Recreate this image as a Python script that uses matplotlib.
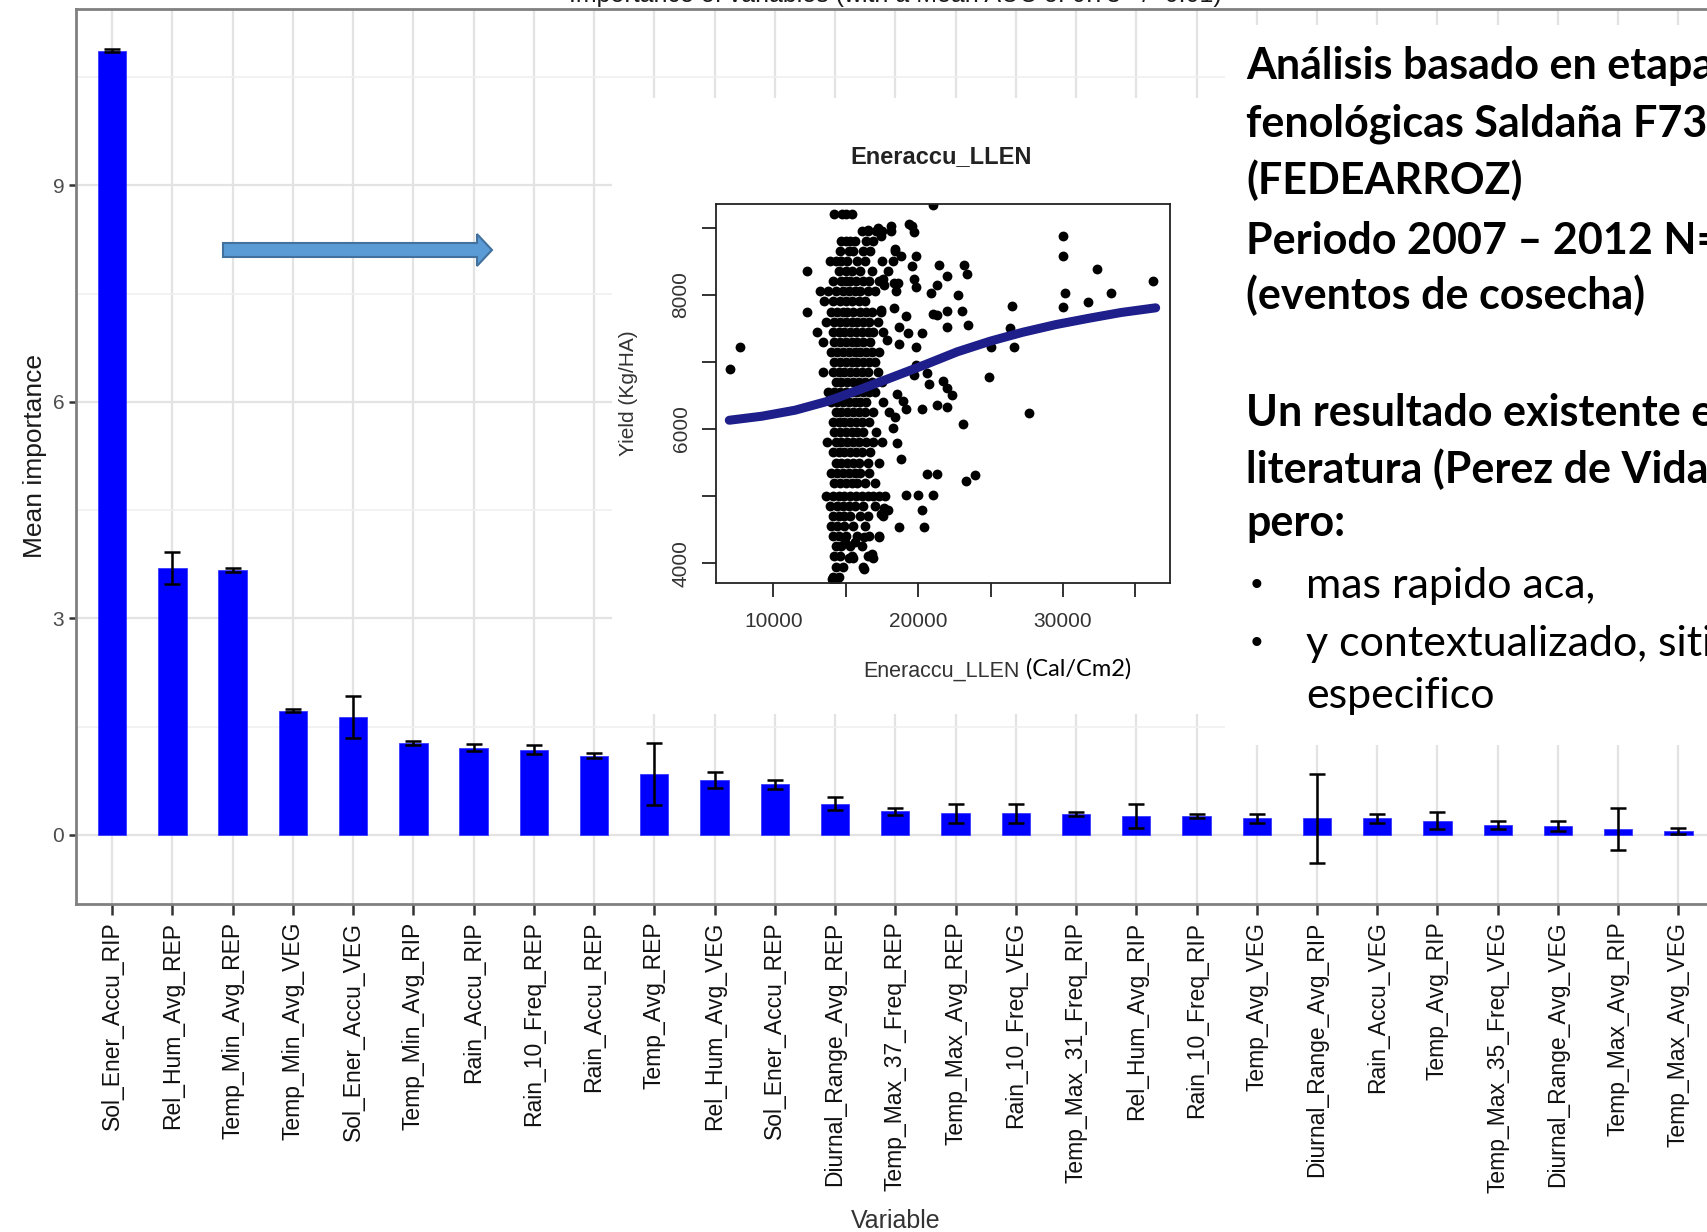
import matplotlib.pyplot as plt
from matplotlib.patches import Rectangle, Polygon
import numpy as np

plt.rcParams['font.family'] = ['Liberation Sans', 'DejaVu Sans']

# --- bar chart data (mean importance +/- sd) ---
variables = ['Sol_Ener_Accu_RIP', 'Rel_Hum_Avg_REP', 'Temp_Min_Avg_REP', 'Temp_Min_Avg_VEG',
             'Sol_Ener_Accu_VEG', 'Temp_Min_Avg_RIP', 'Rain_Accu_RIP', 'Rain_10_Freq_REP',
             'Rain_Accu_REP', 'Temp_Avg_REP', 'Rel_Hum_Avg_VEG', 'Sol_Ener_Accu_REP',
             'Diurnal_Range_Avg_REP', 'Temp_Max_37_Freq_REP', 'Temp_Max_Avg_REP', 'Rain_10_Freq_VEG',
             'Temp_Max_31_Freq_RIP', 'Rel_Hum_Avg_RIP', 'Rain_10_Freq_RIP', 'Temp_Avg_VEG',
             'Diurnal_Range_Avg_RIP', 'Rain_Accu_VEG', 'Temp_Avg_RIP', 'Temp_Max_35_Freq_VEG',
             'Diurnal_Range_Avg_VEG', 'Temp_Max_Avg_RIP', 'Temp_Max_Avg_VEG']
mean_imp = [10.87, 3.70, 3.67, 1.72, 1.63, 1.27, 1.21, 1.18, 1.10, 0.85, 0.76, 0.70, 0.43,
            0.33, 0.30, 0.30, 0.29, 0.26, 0.26, 0.23, 0.23, 0.23, 0.20, 0.14, 0.12, 0.08, 0.05]
sd_imp = [0.02, 0.22, 0.03, 0.02, 0.29, 0.03, 0.05, 0.06, 0.03, 0.43, 0.11, 0.06, 0.09,
          0.05, 0.13, 0.13, 0.03, 0.17, 0.03, 0.06, 0.62, 0.06, 0.12, 0.06, 0.07, 0.29, 0.04]

# --- inset scatter data (Eneraccu_LLEN vs yield) ---
loose_x = [7010, 7670, 30000, 30000, 32360, 33340, 36190, 31750, 30160, 30000, 26460, 26330,
           26590, 25060, 24870, 27650, 23940, 23280, 23070, 23410, 23340, 23150, 22750, 23020,
           21960, 21430, 21300, 20900, 21300, 21960, 21960, 21030, 21030, 20240, 19840, 19840,
           19710, 20640, 20770, 21690, 21960, 22300, 21300, 21960, 20240, 21300, 20640, 21030,
           20000, 19180, 20240, 20370, 18650, 19580, 19710, 19390, 18120, 17200, 16530, 17460,
           18390, 18250, 18780, 19580, 19840, 19710, 19840, 17540, 17670, 18320, 18590, 18450,
           18320, 19180, 19310, 18650, 17460, 17860, 18650, 18520, 18780, 18250, 18390, 18920,
           19180, 18520, 17670, 17940, 17400, 17270, 16800, 16850, 16270, 15480, 15210, 14950,
           15610, 16270, 14020, 14420, 12300, 12300, 13000]
loose_y = [6900, 7220, 8870, 8570, 8380, 8020, 8200, 7890, 8020, 7810, 7830, 7510,
           7220, 7220, 6780, 6240, 5320, 5230, 6070, 7550, 8310, 8450, 7990, 7760,
           8280, 8440, 8140, 8030, 7700, 7760, 7520, 7720, 9335, 7430, 7220, 6950,
           6810, 6840, 6670, 6720, 6610, 6500, 6350, 6330, 6300, 5330, 5330, 5020,
           5020, 5020, 4790, 4540, 4540, 9020, 8940, 9050, 9020, 8990, 8970, 8880,
           8680, 8510, 8570, 8430, 8570, 8230, 8110, 8230, 8140, 8170, 8170, 8060,
           7800, 7690, 7430, 7520, 7770, 7330, 7260, 5790, 5560, 6010, 6180, 6410,
           6300, 6520, 4820, 4790, 4730, 4390, 4140, 4080, 3910, 4080, 4080, 4310,
           4310, 4390, 3770, 3770, 8350, 7750, 7450]
# dense band rows of the main cloud: (yield, [energy values])
band_rows = [
    (9200, [14150, 14750, 15000, 15450]),
    (8950, [16100, 16500, 17100, 17500, 18100]),
    (8800, [14700, 15000, 15300, 15600, 16400, 16900]),
    (8650, [14600, 15200, 15500, 16200, 16700, 18400]),
    (8500, [13900, 14300, 14700, 15100, 15800, 16300, 17500]),
    (8350, [14500, 15000, 15400, 16000, 16800, 17900]),
    (8200, [14100, 14700, 15000, 15300, 15700, 16200, 16600, 17300]),
    (8050, [13200, 13800, 14300, 14800, 15200, 15600, 16000, 16500, 17000]),
    (7900, [13500, 14100, 14600, 15000, 15400, 15900, 16300]),
    (7750, [14000, 14400, 14800, 15100, 15500, 16000, 16400, 16800, 17400]),
    (7600, [13600, 14200, 14600, 15000, 15400, 15800, 16200, 16600, 17200]),
    (7450, [14100, 14500, 14900, 15300, 15700, 16100, 16500, 16900, 17600]),
    (7300, [13400, 14200, 14600, 15000, 15400, 15800, 16200, 16700]),
    (7150, [14000, 14400, 14800, 15200, 15600, 16000, 16400, 16800, 17300]),
    (7000, [14200, 14600, 15000, 15400, 15800, 16200, 16600, 17000]),
    (6850, [13400, 14100, 14500, 14900, 15300, 15700, 16100, 16500, 17200]),
    (6700, [14300, 14700, 15100, 15500, 15900, 16300, 16800, 17500]),
    (6550, [13800, 14200, 14600, 15000, 15400, 15800, 16200, 16600, 17000]),
    (6400, [14000, 14400, 14800, 15200, 15600, 16000, 16400, 17600]),
    (6250, [14300, 14700, 15100, 15500, 15900, 16300, 16900, 18000]),
    (6100, [14100, 14500, 14900, 15300, 15700, 16100, 16600]),
    (5950, [14200, 14600, 15000, 15400, 15800, 16200, 17100]),
    (5800, [13700, 14300, 14700, 15100, 15500, 15900, 16400, 16900, 17500]),
    (5650, [14100, 14500, 14900, 15300, 15700, 16100, 16700]),
    (5500, [14300, 14700, 15100, 15500, 15900, 16500, 17300]),
    (5350, [14000, 14400, 14800, 15200, 15600, 16000, 16600]),
    (5200, [14200, 14600, 15000, 15400, 15800, 16300, 17000]),
    (5000, [13600, 14100, 14500, 14900, 15300, 15700, 16100, 16500, 16900, 17300, 17700]),
    (4850, [13900, 14400, 14800, 15200, 15600, 16200, 17000]),
    (4700, [14100, 14500, 14900, 15300, 16000, 16500, 17600]),
    (4550, [14000, 14400, 14900, 15500, 16300]),
    (4400, [14100, 14500, 15000, 15800, 16600, 17300]),
    (4250, [14300, 14700, 15300, 16100]),
    (4100, [14200, 14600, 15400, 16500]),
    (3950, [14300, 14800, 16200]),
    (3800, [14100, 14500]),
]
trend_x = [6950, 9200, 11500, 13700, 16000, 18200, 20500, 22700, 25000, 27200, 29500,
           31800, 34000, 36400]
trend_y = [6130, 6190, 6280, 6410, 6590, 6770, 6960, 7150, 7310, 7440, 7555, 7650, 7735, 7805]

# --- slide text ---
bold_lines = ['Análisis basado en etapas', 'fenológicas Saldaña F733', '(FEDEARROZ)',
              'Periodo 2007 – 2012 N=', '(eventos de cosecha)', '',
              'Un resultado existente en', 'literatura (Perez de Vidal', 'pero:']
bullet_lines = ['mas rapido aca,', 'y contextualizado, sitio']
extra_line = 'especifico'

W, H = 1707, 1232


def fx(px):
    return px / W


def fy(py):
    return 1 - py / H


fig = plt.figure(figsize=(W / 100, H / 100), dpi=100)
fig.patch.set_facecolor('white')

# main bar chart
ax = fig.add_axes([fx(76), fy(903.5), fx(1714.6) - fx(76), fy(8.7) - fy(903.5)])
pos = np.arange(len(variables))
ax.bar(pos, mean_imp, width=0.47, color='#0000ff', edgecolor='#3a3aff', linewidth=0.6, zorder=3)
ax.errorbar(pos, mean_imp, yerr=sd_imp, fmt='none', ecolor='black', elinewidth=1.8,
            capsize=6, capthick=1.8, zorder=4)
ax.set_xlim(-0.6, len(variables) - 0.4)
ax.set_ylim(-0.95, 11.45)
ax.set_yticks([0, 3, 6, 9])
ax.set_yticks([1.5, 4.5, 7.5, 10.5], minor=True)
ax.set_xticks(pos)
ax.set_xticklabels(variables, rotation=90, fontsize=16.5)
ax.grid(which='major', color='#e3e3e3', lw=1.6)
ax.grid(which='minor', axis='y', color='#f0f0f0', lw=1.2)
ax.set_axisbelow(True)
ax.tick_params(which='minor', length=0)
ax.tick_params(axis='x', length=8, width=1.8, color='#333333', labelcolor='#111111', pad=5)
ax.tick_params(axis='y', length=5, width=1.8, color='#333333', labelcolor='#4d4d4d', labelsize=15)
for s in ax.spines.values():
    s.set_color('#808080')
    s.set_linewidth(2)
ax.set_xlabel('Variable', fontsize=18, color='#333333', labelpad=12)
ax.set_ylabel('Mean importance', fontsize=19, color='#1a1a1a', labelpad=4)

# title mostly cut off at the top edge
fig.text(fx(895), fy(2), 'Importance of variables (with a Mean AUC of 0.73 +/- 0.01)',
         ha='center', va='baseline', fontsize=18, color='#1a1a1a')

# white blocks pasted over the plot
fig.add_artist(Rectangle((fx(612), fy(714)), fx(1225) - fx(612), fy(98) - fy(714),
                         transform=fig.transFigure, facecolor='white', edgecolor='none', zorder=5))
fig.add_artist(Rectangle((fx(1225), fy(745)), fx(1720) - fx(1225), fy(25) - fy(745),
                         transform=fig.transFigure, facecolor='white', edgecolor='none', zorder=5))

# arrow
arrow_px = [(223, 243), (477, 243), (477, 234), (492, 250), (477, 266), (477, 257), (223, 257)]
fig.add_artist(Polygon([(fx(x), fy(y)) for x, y in arrow_px], closed=True,
                       transform=fig.transFigure, facecolor='#5b9bd5', edgecolor='#41719c',
                       linewidth=1.5, zorder=6))

# inset scatter
iax = fig.add_axes([fx(715.6), fy(583), fx(1169.5) - fx(715.6), fy(204) - fy(583)])
iax.set_zorder(10)
sx = list(loose_x)
sy = list(loose_y)
for yv, xs in band_rows:
    sx += xs
    sy += [yv] * len(xs)
iax.scatter(sx, sy, s=50, color='black', linewidths=0, zorder=2)
iax.plot(trend_x, trend_y, color='#1f1f8c', lw=6.5, solid_capstyle='round', zorder=3)
iax.set_xlim(6005, 37355)
iax.set_ylim(3705, 9352)
iax.set_xticks([10000, 15000, 20000, 25000, 30000, 35000])
iax.set_xticklabels(['10000', '', '20000', '', '30000', ''])
iax.set_yticks([4000, 5000, 6000, 7000, 8000, 9000])
iax.set_yticklabels(['4000', '', '6000', '', '8000', ''], rotation=90, va='center')
iax.tick_params(length=10, width=1.3, color='#222222', labelsize=15, labelcolor='#333333')
iax.tick_params(axis='x', pad=11)
iax.tick_params(axis='y', pad=8)
for s in iax.spines.values():
    s.set_color('#222222')
    s.set_linewidth(1.3)

fig.text(fx(941), fy(157), 'Eneraccu_LLEN', ha='center', va='center', fontsize=17,
         fontweight='bold', color='#222222', zorder=11)
fig.text(fx(629), fy(393), 'Yield (Kg/HA)', rotation=90, ha='center', va='center',
         fontsize=15, color='#333333', zorder=11)
fig.text(fx(863), fy(671), 'Eneraccu_LLEN', ha='left', va='center', fontsize=15.5,
         color='#333333', zorder=11)
fig.text(fx(1026), fy(669), '(Cal/Cm2)', ha='left', va='center', fontsize=17,
         family=['Lato', 'DejaVu Sans'], color='black', zorder=11)

# slide text on the right
line_base = [79, 136, 194, 254, 309, 0, 426, 483, 536]
for txt, yb in zip(bold_lines, line_base):
    if txt:
        fig.text(fx(1246), fy(yb), txt, ha='left', va='baseline', fontsize=31,
                 fontweight='bold', family=['Lato', 'DejaVu Sans'], color='black', zorder=11)
for txt, yb in zip(bullet_lines, [598, 656]):
    fig.text(fx(1251), fy(yb - 3), '•', ha='left', va='baseline', fontsize=24,
             family=['Liberation Sans', 'DejaVu Sans'], color='black', zorder=11)
    fig.text(fx(1306), fy(yb), txt, ha='left', va='baseline', fontsize=31,
             family=['Lato', 'DejaVu Sans'], color='black', zorder=11)
fig.text(fx(1306), fy(708), extra_line, ha='left', va='baseline', fontsize=31,
         family=['Lato', 'DejaVu Sans'], color='black', zorder=11)

fig.savefig('out.png', dpi=100)
